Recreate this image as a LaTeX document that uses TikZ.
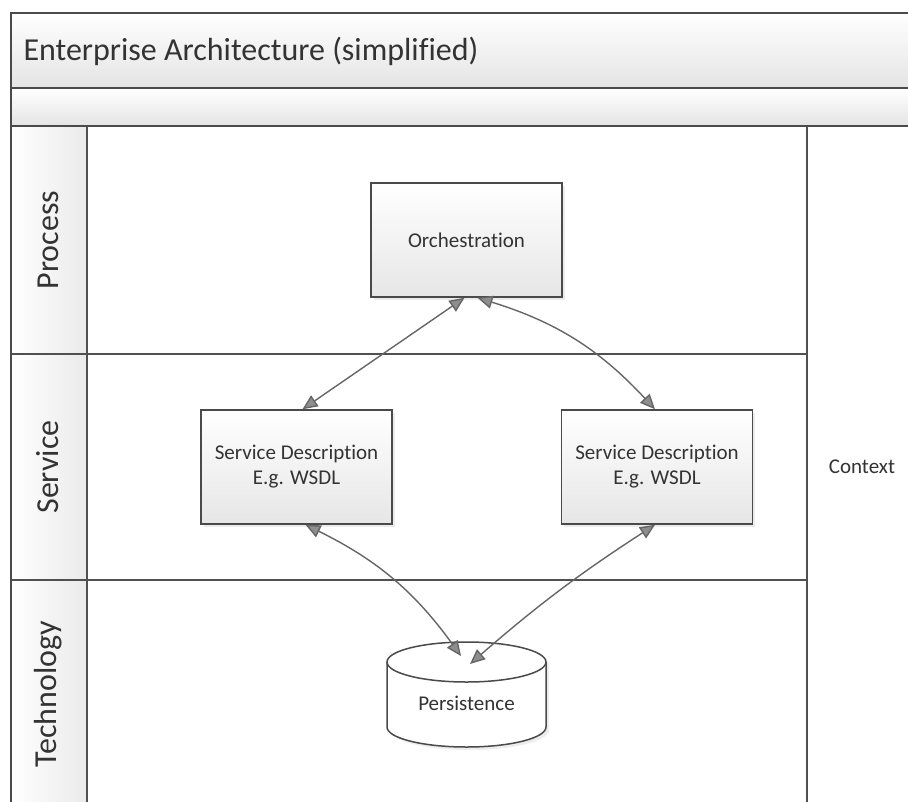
\documentclass[tikz,border=0pt]{standalone}
\usepackage{fontspec}
\setmainfont{Carlito}[Ligatures=NoCommon]
\usetikzlibrary{arrows.meta,calc,shadows}
\definecolor{frameline}{HTML}{4A4A4A}
\definecolor{laneline}{HTML}{505050}
\definecolor{bandgray}{HTML}{E4E4E4}
\definecolor{headgray}{HTML}{EAEAEA}
\definecolor{boxgray}{HTML}{E6E6E6}
\definecolor{txt}{HTML}{333333}
\definecolor{connline}{HTML}{666666}
\definecolor{tipgray}{HTML}{8E8E8E}
\tikzset{
  bigtext/.style={font=\fontsize{32}{38}\selectfont, text=txt},
  smalltext/.style={font=\fontsize{21}{25}\selectfont, text=txt, align=center},
  frame/.style={draw=frameline, line width=1.8pt},
  lane/.style={draw=laneline, line width=1.5pt},
  procbox/.style={smalltext, draw=frameline, line width=1.5pt,
    top color=white, bottom color=boxgray,
    drop shadow={shadow xshift=2.5pt, shadow yshift=-2.5pt, opacity=0.15},
    minimum width=191pt, minimum height=114pt, inner sep=0pt},
  conn/.style={draw=connline, line width=1.4pt,
    {Triangle[length=15pt,width=13pt,fill=tipgray]}-{Triangle[length=15pt,width=13pt,fill=tipgray]}},
}
\begin{document}
\begin{tikzpicture}[x=1pt,y=-1pt]
\useasboundingbox (0,0) rectangle (908,801);
\clip (0,0) rectangle (908,801);
\fill[white] (0,0) rectangle (908,801);

% header bands and lane header column
\shade[top color=white, bottom color=bandgray] (11,13) rectangle (940,88);
\shade[top color=white, bottom color=bandgray] (11,88) rectangle (940,126);
\shade[left color=white, right color=headgray] (11,126) rectangle (87,830);

% frame and lane separators
\draw[frame] (940,13) -- (11,13) -- (11,830);
\draw[frame] (11,88) -- (940,88);
\draw[frame] (11,126) -- (940,126);
\draw[lane] (87,126) -- (87,830);
\draw[lane] (11,354) -- (807,354);
\draw[lane] (11,580) -- (807,580);
\draw[lane] (807,126) -- (807,830);

% texts of the header and lanes
\node[bigtext, anchor=west] (title) at (20,51) {Enterprise Architecture (simplified)};
\node[bigtext, rotate=90] (lproc) at (48,240) {Process};
\node[bigtext, rotate=90] (lserv) at (48,467) {Service};
\node[bigtext, rotate=90] (ltech) at (48,694) {Technology};
\node[smalltext] (ctx) at (862,467) {Context};

% elements
\node[procbox] (orch) at (466.5,240) {Orchestration};
\node[procbox] (svcL) at (296.5,467) {Service Description\\E.g. WSDL};
\node[procbox] (svcR) at (657,467) {Service Description\\E.g. WSDL};

% persistence store (cylinder)
\fill[black, opacity=0.07] (390,665) -- (390,730) arc[start angle=180, end angle=360, x radius=79.5pt, y radius=20pt] -- (549,665) arc[start angle=0, end angle=180, x radius=79.5pt, y radius=20pt] -- cycle;
\draw[draw=frameline, line width=1.5pt, fill=white] (387,662) -- (387,727) arc[start angle=180, end angle=360, x radius=79.5pt, y radius=20pt] -- (546,662) arc[start angle=0, end angle=180, x radius=79.5pt, y radius=20pt] -- cycle;
\draw[draw=frameline, line width=1.5pt] (387,662) arc[start angle=180, end angle=360, x radius=79.5pt, y radius=20pt];
\node[smalltext] (pers) at (466.5,703) {Persistence};
\coordinate (dbA) at (461,656);
\coordinate (dbB) at (470,664);

% connectors
\draw[conn] ($(orch.south)+(-2,0)$) -- ($(svcL.north)+(6,0)$);
\draw[conn] ($(orch.south)+(11,0)$) to[bend left=15] ($(svcR.north)+(-2,0)$);
\draw[conn] ($(svcL.south)+(9,0)$) to[bend left=14] (dbA);
\draw[conn] (dbB) to[bend left=4] ($(svcR.south)+(-2,0)$);
\end{tikzpicture}
\end{document}
